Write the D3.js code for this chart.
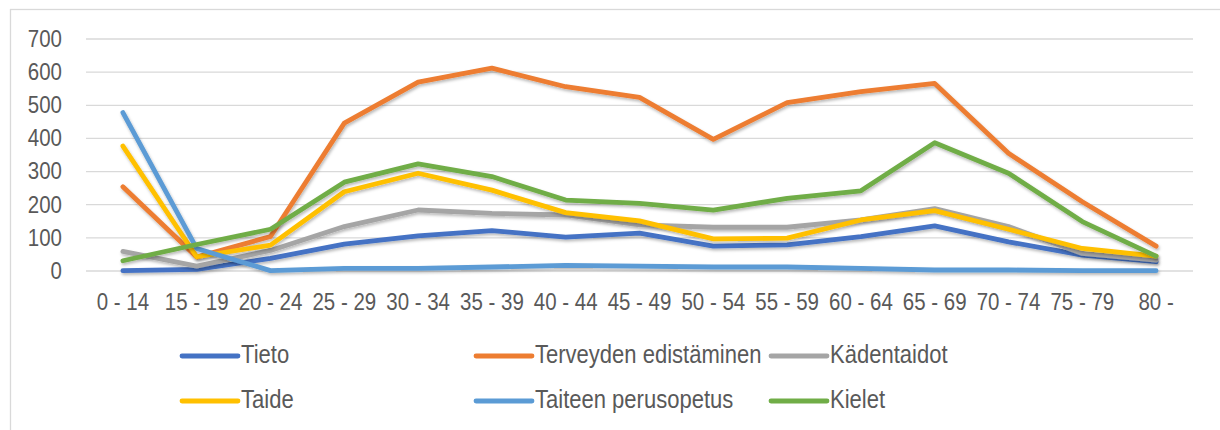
<!DOCTYPE html>
<html>
<head>
<meta charset="utf-8">
<script src="https://cdn.jsdelivr.net/npm/d3@7"></script>
<style>
  body { margin: 0; background: #fff; }
  svg { display: block; font-family: "Liberation Sans", Arial, sans-serif; }
</style>
</head>
<body>
<div id="container"></div>
<script>
const width = 1220;
const height = 430;

// Age groups (x axis)
const ageGroups = ["0 - 14", "15 - 19", "20 - 24", "25 - 29", "30 - 34", "35 - 39", "40 - 44",
  "45 - 49", "50 - 54", "55 - 59", "60 - 64", "65 - 69", "70 - 74", "75 - 79", "80 -"];

const yTicks = [0, 100, 200, 300, 400, 500, 600, 700];

// Series values
const tieto = [1, 5, 38, 81, 106, 122, 102, 114, 75, 79, 104, 136, 88, 48, 28];
const terveys = [254, 42, 104, 446, 570, 612, 556, 524, 397, 508, 541, 566, 355, 209, 75];
const kadentaidot = [59, 15, 62, 134, 184, 174, 169, 139, 132, 132, 154, 188, 134, 53, 33];
const taide = [377, 43, 78, 239, 295, 244, 176, 151, 97, 99, 154, 182, 126, 68, 45];
const perusopetus = [478, 68, 1, 8, 8, 12, 17, 15, 12, 12, 8, 3, 3, 1, 1];
const kielet = [31, 80, 126, 268, 323, 285, 214, 204, 184, 219, 242, 387, 295, 149, 45];

const seriesNames = ["Tieto", "Terveyden edistäminen", "Kädentaidot", "Taide", "Taiteen perusopetus", "Kielet"];
const seriesColours = ["#4472c4", "#ed7d31", "#a5a5a5", "#ffc000", "#5b9bd5", "#70ad47"];
const seriesValues = [tieto, terveys, kadentaidot, taide, perusopetus, kielet];

const series = seriesNames.map((name, i) => ({ name, colour: seriesColours[i], values: seriesValues[i] }));

const plot = { left: 86, right: 1193, top: 39, bottom: 271 };
const textColour = "#595959";
const squeeze = 0.89; // text is a bit narrower than Liberation Sans

const svg = d3.select("#container").append("svg")
  .attr("width", width)
  .attr("height", height);

// drop shadow under the lines
const defs = svg.append("defs");
defs.append("filter")
  .attr("id", "shadow")
  .attr("x", "-5%").attr("y", "-20%").attr("width", "110%").attr("height", "140%")
  .append("feDropShadow")
  .attr("dx", 1).attr("dy", 2).attr("stdDeviation", 1.6)
  .attr("flood-color", "#000").attr("flood-opacity", 0.28);

// chart border (right and bottom edges fall outside the picture)
svg.append("rect")
  .attr("x", 10.5).attr("y", 9.5)
  .attr("width", 1240).attr("height", 440)
  .attr("fill", "none")
  .attr("stroke", "#d9d9d9")
  .attr("stroke-width", 1.3);

const x = d3.scaleBand().domain(ageGroups).range([plot.left, plot.right]);
const y = d3.scaleLinear().domain([0, 700]).range([plot.bottom, plot.top]);

// gridlines
svg.append("g")
  .selectAll("line")
  .data(yTicks)
  .join("line")
  .attr("x1", plot.left).attr("x2", plot.right)
  .attr("y1", d => y(d)).attr("y2", d => y(d))
  .attr("stroke", "#d9d9d9")
  .attr("stroke-width", 1.3);

// y axis labels
const yAxis = d3.axisLeft(y).tickValues(yTicks).tickSize(0).tickPadding(27);
svg.append("g")
  .attr("transform", `translate(${plot.left},0)`)
  .call(yAxis)
  .call(g => g.select(".domain").remove())
  .selectAll("text")
  .attr("fill", textColour)
  .attr("transform", `scale(${squeeze},1)`)
  .style("font-size", "23px")
  .style("font-family", "'Liberation Sans', Arial, sans-serif");

// x axis labels
const xAxis = d3.axisBottom(x).tickSize(0).tickPadding(23);
svg.append("g")
  .attr("transform", `translate(0,${plot.bottom})`)
  .call(xAxis)
  .call(g => g.select(".domain").remove())
  .selectAll("text")
  .attr("fill", textColour)
  .attr("transform", `scale(${squeeze},1)`)
  .style("font-size", "23px")
  .style("font-family", "'Liberation Sans', Arial, sans-serif");

// lines
const line = d3.line()
  .x((d, i) => x(ageGroups[i]) + x.bandwidth() / 2)
  .y(d => y(d));

svg.append("g")
  .selectAll("path")
  .data(series)
  .join("path")
  .attr("d", d => line(d.values))
  .attr("fill", "none")
  .attr("stroke", d => d.colour)
  .attr("stroke-width", 4.8)
  .attr("stroke-linejoin", "round")
  .attr("stroke-linecap", "round")
  .attr("filter", "url(#shadow)");

// legend
const legendCols = [182, 476, 771];
const legendRows = [356, 401];
const legend = svg.append("g")
  .selectAll("g")
  .data(series)
  .join("g")
  .attr("transform", (d, i) => `translate(${legendCols[i % 3]},${legendRows[Math.floor(i / 3)]})`);

legend.append("line")
  .attr("x1", 0).attr("x2", 56)
  .attr("y1", 0).attr("y2", 0)
  .attr("stroke", d => d.colour)
  .attr("stroke-width", 4.8)
  .attr("stroke-linecap", "round");

legend.append("text")
  .attr("transform", `translate(59,7) scale(${squeeze * 0.99},1)`)
  .attr("fill", textColour)
  .style("font-size", "25px")
  .text(d => d.name);
</script>
</body>
</html>
